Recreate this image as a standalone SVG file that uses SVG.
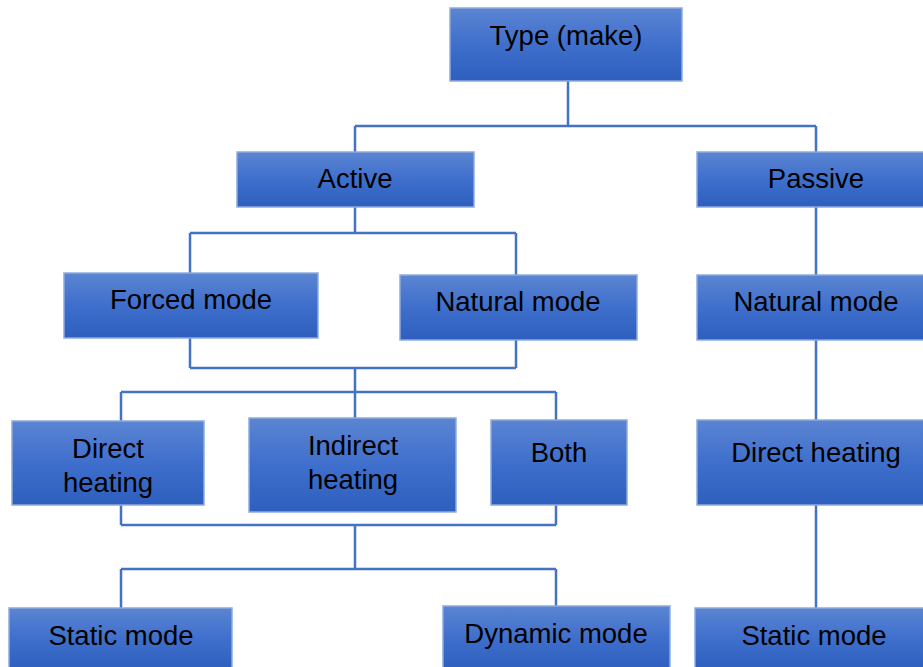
<svg xmlns="http://www.w3.org/2000/svg" width="923" height="667" viewBox="0 0 923 667">
<defs>
<linearGradient id="g" x1="0" y1="0" x2="0" y2="1">
<stop offset="0" stop-color="#5b85d2"/>
<stop offset="0.5" stop-color="#3f6fcc"/>
<stop offset="1" stop-color="#2f5fbe"/>
</linearGradient>
</defs>
<style>
.box{fill:url(#g);stroke:#8eabdc;stroke-width:1.5}
.t{font-family:"Liberation Sans",Arial,sans-serif;font-size:27.5px;fill:#000;text-anchor:middle}
.c{fill:none;stroke:#4472c4;stroke-width:2.5}
</style>
<rect width="923" height="667" fill="#fff"/>
<g id="connectors" class="c">
<path d="M568 81V126M355 126H816M355 126V152M816 126V152"/>
<path d="M355 207V233M190 233H516M190 233V273M516 233V275"/>
<path d="M190 338V368M516 340V368M190 368H516M355 368V392M121 392H556M121 392V421M355 392V418M556 392V420"/>
<path d="M121 505V525M556 505V525M121 525H556M355 525V569M121 569H556M121 569V608M556 569V606"/>
<path d="M816 207V275M816 340V420M816 505V608"/>
</g>
<g id="type"><rect class="box" x="450" y="8" width="232" height="73"/><text class="t" x="566" y="45">Type (make)</text></g>
<g id="active"><rect class="box" x="237" y="152" width="237" height="55"/><text class="t" x="355" y="188">Active</text></g>
<g id="passive"><rect class="box" x="697" y="152" width="230" height="55"/><text class="t" x="816" y="188">Passive</text></g>
<g id="forced"><rect class="box" x="64" y="273" width="254" height="65"/><text class="t" x="191" y="309">Forced mode</text></g>
<g id="natural-a"><rect class="box" x="400" y="275" width="237" height="65"/><text class="t" x="518" y="311">Natural mode</text></g>
<g id="natural-p"><rect class="box" x="697" y="275" width="230" height="65"/><text class="t" x="816" y="311">Natural mode</text></g>
<g id="direct"><rect class="box" x="12" y="421" width="192" height="84"/><text class="t" x="108" y="458">Direct</text><text class="t" x="108" y="492">heating</text></g>
<g id="indirect"><rect class="box" x="249" y="418" width="207" height="94"/><text class="t" x="353" y="455">Indirect</text><text class="t" x="353" y="489">heating</text></g>
<g id="both"><rect class="box" x="491" y="420" width="136" height="85"/><text class="t" x="559" y="462">Both</text></g>
<g id="direct-p"><rect class="box" x="697" y="420" width="230" height="85"/><text class="t" x="816" y="462">Direct heating</text></g>
<g id="static"><rect class="box" x="9" y="608" width="223" height="62"/><text class="t" x="121" y="645">Static mode</text></g>
<g id="dynamic"><rect class="box" x="443" y="606" width="227" height="64"/><text class="t" x="556" y="643">Dynamic mode</text></g>
<g id="static-p"><rect class="box" x="695" y="608" width="232" height="62"/><text class="t" x="814" y="645">Static mode</text></g>
</svg>
